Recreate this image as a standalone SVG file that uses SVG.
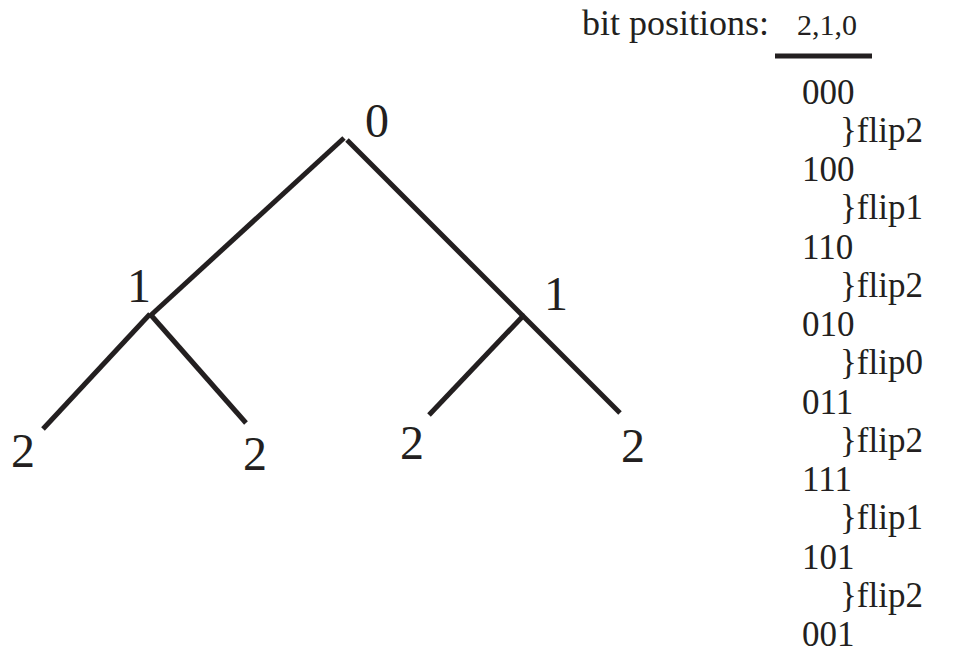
<svg xmlns="http://www.w3.org/2000/svg" width="966" height="667" viewBox="0 0 966 667">
<style>
text{font-family:"Liberation Serif","Times New Roman",serif;fill:#231f20}
.lbl{font-size:48px}
.col{font-size:35px}
.e{stroke:#231f20;stroke-width:5;fill:none}
</style>
<rect width="966" height="667" fill="#fff"/>
<g id="edges">
<line class="e" x1="344" y1="138" x2="150" y2="316"/>
<line class="e" x1="347" y1="140" x2="523" y2="316"/>
<line class="e" x1="150" y1="314" x2="43" y2="429"/>
<line class="e" x1="150" y1="314" x2="246" y2="423"/>
<line class="e" x1="524" y1="315" x2="429" y2="415"/>
<line class="e" x1="522" y1="315" x2="620" y2="413"/>
</g>
<g id="n0"><text class="lbl" x="365" y="137">0</text></g>
<g id="n1a"><text class="lbl" x="127" y="302">1</text></g>
<g id="n1b"><text class="lbl" x="544" y="310">1</text></g>
<g id="n2a"><text class="lbl" x="11" y="467">2</text></g>
<g id="n2b"><text class="lbl" x="243" y="470">2</text></g>
<g id="n2c"><text class="lbl" x="400" y="459">2</text></g>
<g id="n2d"><text class="lbl" x="621" y="462">2</text></g>
<g id="header">
<text x="582" y="35" style="font-size:36px">bit positions:</text>
<text x="797" y="35" style="font-size:30px">2,1,0</text>
<line class="e" x1="775" y1="56" x2="872" y2="56"/>
</g>
<g id="sequence" class="col">
<text x="802" y="104">000</text>
<text x="840" y="142">}flip2</text>
<text x="802" y="181">100</text>
<text x="840" y="219">}flip1</text>
<text x="802" y="259">110</text>
<text x="840" y="297">}flip2</text>
<text x="802" y="336">010</text>
<text x="840" y="374">}flip0</text>
<text x="802" y="414">011</text>
<text x="840" y="452">}flip2</text>
<text x="802" y="491">111</text>
<text x="840" y="529">}flip1</text>
<text x="802" y="569">101</text>
<text x="840" y="607">}flip2</text>
<text x="802" y="646">001</text>
</g>
</svg>
